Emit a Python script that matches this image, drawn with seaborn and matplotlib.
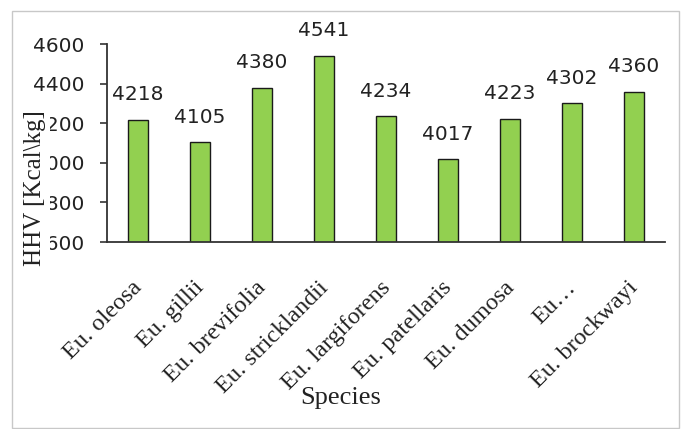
import matplotlib
matplotlib.use("Agg")
import matplotlib.pyplot as plt
import seaborn as sns
from matplotlib.patches import Rectangle
from matplotlib.transforms import ScaledTranslation

species = ["Eu. oleosa", "Eu. gillii", "Eu. brevifolia", "Eu. stricklandii",
           "Eu. largiforens", "Eu. patellaris", "Eu. dumosa", "Eu\u2026",
           "Eu. brockwayi"]
hhv = [4218, 4105, 4380, 4541, 4234, 4017, 4223, 4302, 4360]
yticks = [3600, 3800, 4000, 4200, 4400, 4600]

sns.set_style("white")
plt.rcParams['font.family'] = ['DejaVu Sans']

fig = plt.figure(figsize=(6.86, 4.29), dpi=100)
ax = fig.add_axes([107/686, 1 - 242/429, (665-107)/686, (242-44)/429])

sns.barplot(x=species, y=hhv, color="#92d050", width=0.31,
            edgecolor="#1a1a1a", linewidth=1.0, saturation=1, ax=ax)

ax.set_ylim(3600, 4600)
ax.set_xlim(-0.5, 8.5)
ax.set_yticks(yticks)
ax.set_yticklabels([str(t) for t in yticks], fontsize=14.5, color="#222222")
ax.tick_params(axis="y", length=5, width=1.2, pad=11, left=True, color="#333333")
ax.tick_params(axis="x", length=0, pad=14)

for s in ["top", "right"]:
    ax.spines[s].set_visible(False)
for s in ["left", "bottom"]:
    ax.spines[s].set_color("#333333")
    ax.spines[s].set_linewidth(1.3)

ax.bar_label(ax.containers[0], labels=[str(v) for v in hhv], padding=11,
             fontsize=14.5, color="#222222")

offset = ScaledTranslation(1/100, -23/100, fig.dpi_scale_trans)
for lab in ax.get_xticklabels():
    lab.set_rotation(45)
    lab.set_ha("right")
    lab.set_va("center")
    lab.set_rotation_mode("anchor")
    lab.set_family("Liberation Serif")
    lab.set_fontsize(17.5)
    lab.set_color("#222222")
    lab.set_transform(lab.get_transform() + offset)

ax.set_xlabel("")
ax.set_ylabel("")
fig.text(341/686, 1 - 398/429, "Species", family="Liberation Serif",
         fontsize=19, ha="center", va="center", color="#222222")
fig.text(35/686, 1 - 188/429, "HHV [Kcal\\kg]", family="Liberation Serif",
         fontsize=18, rotation=90, ha="center", va="center", color="#222222",
         bbox=dict(facecolor="white", edgecolor="none", pad=3))

fig.patches.append(Rectangle((12/686, 1 - 428/429), (679-12)/686, (428-11)/429,
                             transform=fig.transFigure, fill=False,
                             edgecolor="#c8c8c8", linewidth=1.0))

fig.savefig("out.png", dpi=100)
